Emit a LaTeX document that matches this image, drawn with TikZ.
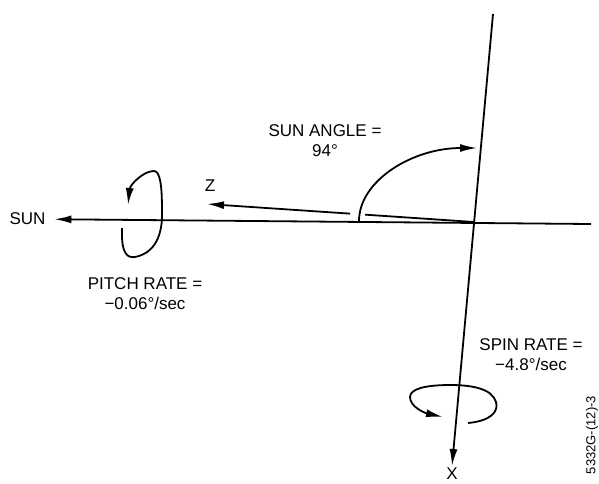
\documentclass[tikz,border=0pt]{standalone}
\usepackage{fontspec}
\setmainfont{Liberation Sans}
\usepackage{tikz}
\usetikzlibrary{arrows.meta, calc}

\begin{document}
\begin{tikzpicture}[x=1pt, y=-1pt, line width=1.8pt, >={Latex[length=17pt,width=8pt]},
	every node/.style={font=\fontsize{17}{20}\selectfont, inner sep=1pt, align=center}]
	\useasboundingbox (0,0) rectangle (599,483);

	\coordinate (O)  at (474,222);
	\coordinate (E)  at (591,224);
	\coordinate (T)  at (493,14);
	\coordinate (ZT) at (207,204);
	\coordinate (A0) at (359,221);
	\coordinate (A1) at (477,148);
	\coordinate (P0) at (122,228);
	\coordinate (P1) at (128,205);
	\coordinate (S0) at (468,423);
	\coordinate (S1) at (443,417);

	\node[inner xsep=8pt] (SUN) at (27.5,219) {SUN};
	\node[anchor=north] (X) at (452,466) {X};
	\node (Z)  at (210,186) {Z};
	\node (SA) at (325,140.5) {SUN ANGLE =\\94°};
	\node (PR) at (145,294) {PITCH RATE =\\−0.06°/sec};
	\node (SR) at (531,355) {SPIN RATE =\\−4.8°/sec};
	\node[rotate=90, font=\fontsize{13}{15}\selectfont] (ID) at (592,435) {5332G-(12)-3};

	\draw[->] (E) -- (SUN);
	\draw[->] (T) -- (X.north);
	\draw (O) -- ($(O)!0.408!(ZT)$);
	\draw[->] ($(O)!0.464!(ZT)$) -- (ZT);
	\draw[->] (A0) .. controls (359,181) and (412,148) .. (A1);

	\draw[->] (P0) .. controls (121,255) and (128,258) .. (135,257)
		.. controls (155,253) and (163,235) .. (162,210)
		.. controls (162,185) and (160,171) .. (154,171)
		.. controls (143,171) and (130,185) .. (P1);
	\draw[->] (S0) .. controls (490,421) and (499,412) .. (496,402)
		.. controls (492,388) and (470,385) .. (450,385)
		.. controls (425,385) and (410,389) .. (410,397)
		.. controls (410,407) and (425,413) .. (S1);
\end{tikzpicture}
\end{document}
